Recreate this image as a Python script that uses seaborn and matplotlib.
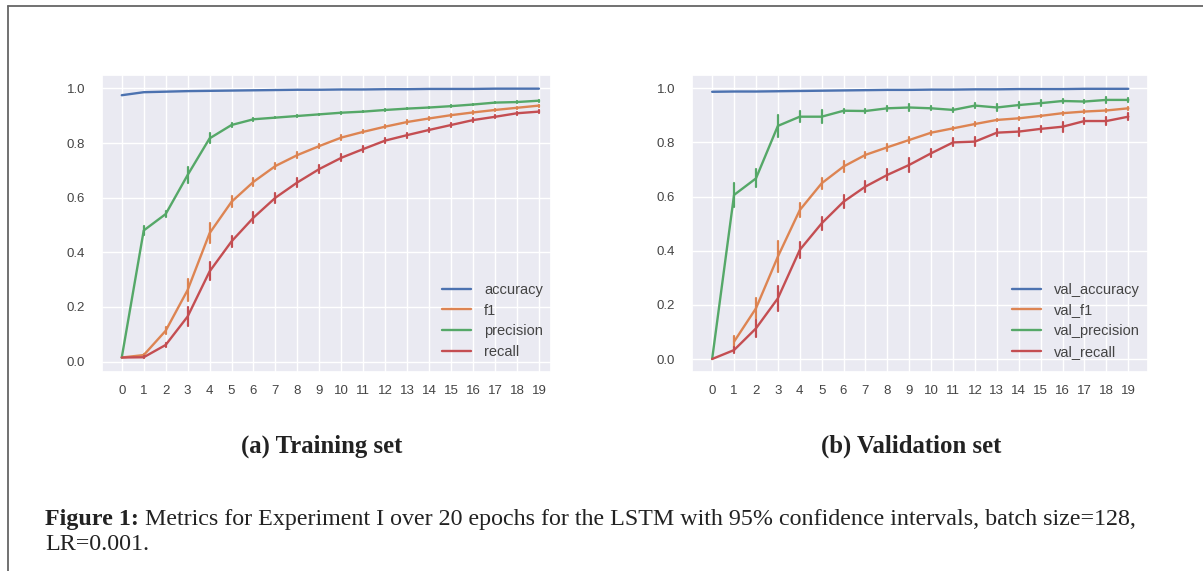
import numpy as np
import pandas as pd
import matplotlib
matplotlib.use("Agg")
import matplotlib.pyplot as plt
from matplotlib.lines import Line2D
import seaborn as sns

epochs = list(range(20))
metrics = ["accuracy", "f1", "precision", "recall"]

# ---- Training set (means and 95% CI half-widths) ----
train_accuracy = [0.975, 0.986, 0.988, 0.990, 0.991, 0.992, 0.993, 0.994, 0.995, 0.995,
                  0.996, 0.996, 0.997, 0.997, 0.998, 0.998, 0.998, 0.999, 0.999, 0.999]
train_f1 = [0.015, 0.024, 0.113, 0.262, 0.470, 0.585, 0.658, 0.716, 0.756, 0.789,
            0.820, 0.841, 0.860, 0.877, 0.890, 0.902, 0.912, 0.921, 0.929, 0.937]
train_precision = [0.015, 0.480, 0.540, 0.683, 0.817, 0.866, 0.887, 0.893, 0.899, 0.905,
                   0.911, 0.915, 0.921, 0.926, 0.930, 0.935, 0.941, 0.948, 0.950, 0.955]
train_recall = [0.015, 0.016, 0.061, 0.165, 0.330, 0.440, 0.527, 0.600, 0.656, 0.705,
                0.746, 0.778, 0.809, 0.829, 0.848, 0.866, 0.884, 0.896, 0.909, 0.915]
train_accuracy_ci = [0.0] * 20
train_f1_ci = [0.0, 0.005, 0.012, 0.040, 0.036, 0.020, 0.015, 0.012, 0.010, 0.008,
               0.008, 0.006, 0.006, 0.006, 0.005, 0.005, 0.005, 0.004, 0.004, 0.004]
train_precision_ci = [0.0, 0.018, 0.012, 0.030, 0.018, 0.008, 0.005, 0.003, 0.003, 0.003,
                      0.003, 0.003, 0.003, 0.003, 0.003, 0.003, 0.003, 0.003, 0.003, 0.003]
train_recall_ci = [0.0, 0.004, 0.008, 0.035, 0.033, 0.020, 0.020, 0.018, 0.016, 0.014,
                   0.013, 0.012, 0.010, 0.009, 0.008, 0.007, 0.007, 0.006, 0.006, 0.005]

# ---- Validation set ----
val_accuracy = [0.987, 0.988, 0.988, 0.989, 0.990, 0.991, 0.992, 0.993, 0.994, 0.994,
                0.995, 0.995, 0.996, 0.996, 0.997, 0.997, 0.997, 0.998, 0.998, 0.998]
val_f1 = [np.nan, 0.064, 0.187, 0.378, 0.550, 0.649, 0.711, 0.754, 0.782, 0.809,
          0.836, 0.852, 0.868, 0.883, 0.889, 0.898, 0.908, 0.914, 0.918, 0.926]
val_precision = [0.0, 0.606, 0.667, 0.861, 0.895, 0.895, 0.917, 0.916, 0.926, 0.929,
                 0.926, 0.920, 0.936, 0.929, 0.938, 0.945, 0.953, 0.951, 0.957, 0.957]
val_recall = [0.0, 0.033, 0.113, 0.224, 0.403, 0.501, 0.581, 0.637, 0.680, 0.717,
              0.760, 0.800, 0.803, 0.836, 0.840, 0.850, 0.858, 0.879, 0.879, 0.895]
val_accuracy_ci = [0.0] * 20
val_f1_ci = [np.nan, 0.020, 0.040, 0.058, 0.025, 0.020, 0.020, 0.012, 0.012, 0.012,
             0.008, 0.006, 0.006, 0.005, 0.005, 0.005, 0.005, 0.005, 0.005, 0.005]
val_precision_ci = [0.0, 0.045, 0.033, 0.042, 0.020, 0.024, 0.008, 0.008, 0.010, 0.012,
                    0.008, 0.008, 0.010, 0.012, 0.012, 0.012, 0.008, 0.006, 0.010, 0.008]
val_recall_ci = [0.0, 0.010, 0.030, 0.045, 0.030, 0.025, 0.025, 0.020, 0.020, 0.027,
                 0.015, 0.015, 0.018, 0.012, 0.015, 0.012, 0.018, 0.010, 0.015, 0.012]

train_labels = ["accuracy", "f1", "precision", "recall"]
val_labels = ["val_accuracy", "val_f1", "val_precision", "val_recall"]
y_ticks = [0.0, 0.2, 0.4, 0.6, 0.8, 1.0]
panel_titles = ["(a) Training set", "(b) Validation set"]
caption_bold = "Figure 1:"
caption_rest = " Metrics for Experiment I over 20 epochs for the LSTM with 95% confidence intervals, batch size=128,"
caption_line2 = "LR=0.001."


def build_frame(means, cis, labels):
    rows = []
    for lab, m, c in zip(labels, means, cis):
        for e, mv, cv in zip(epochs, m, c):
            if np.isnan(mv):
                continue
            rows.append({"epoch": e, "value": mv - cv, "metric": lab})
            rows.append({"epoch": e, "value": mv + cv, "metric": lab})
    return pd.DataFrame(rows)


train_df = build_frame([train_accuracy, train_f1, train_precision, train_recall],
                       [train_accuracy_ci, train_f1_ci, train_precision_ci, train_recall_ci],
                       train_labels)
val_df = build_frame([val_accuracy, val_f1, val_precision, val_recall],
                     [val_accuracy_ci, val_f1_ci, val_precision_ci, val_recall_ci],
                     val_labels)

sns.set_theme(style="darkgrid")
plt.rcParams["font.family"] = ["Liberation Sans", "DejaVu Sans"]

fig = plt.figure(figsize=(12.03, 5.71), dpi=100)
fig.patch.set_facecolor("white")

ax1 = fig.add_axes([102 / 1203, 1 - 372 / 571, 449 / 1203, 297 / 571])
ax2 = fig.add_axes([692 / 1203, 1 - 372 / 571, 456 / 1203, 297 / 571])

palette = sns.color_palette("deep", 4)
tick_color = "#444444"

for ax, df, labels, xlim, ylim in [
    (ax1, train_df, train_labels, (-0.9, 19.55), (-0.038, 1.049)),
    (ax2, val_df, val_labels, (-0.92, 19.9), (-0.048, 1.049)),
]:
    sns.lineplot(data=df, x="epoch", y="value", hue="metric", hue_order=labels,
                 palette=palette, estimator="mean", errorbar=("pi", 100),
                 err_style="bars", err_kws={"linewidth": 1.6}, linewidth=1.7,
                 ax=ax, legend=False)
    ax.set_xlim(*xlim)
    ax.set_ylim(*ylim)
    ax.set_xticks(epochs)
    ax.set_xticklabels([str(e) for e in epochs])
    ax.set_yticks(y_ticks)
    ax.set_yticklabels([f"{v:.1f}" for v in y_ticks])
    ax.set_xlabel("")
    ax.set_ylabel("")
    ax.tick_params(axis="both", length=0)
    ax.tick_params(axis="y", labelsize=9.5, colors=tick_color, pad=12)
    ax.tick_params(axis="x", labelsize=9.5, colors=tick_color, pad=9)
    handles = [Line2D([0], [0], color=palette[i], lw=1.7) for i in range(4)]
    leg = ax.legend(handles, labels, loc="lower right", frameon=False, fontsize=10.5,
                    handlelength=2.0, handletextpad=0.9, labelspacing=0.45,
                    borderaxespad=0.15, bbox_to_anchor=(1.0, 0.018))
    for t in leg.get_texts():
        t.set_color(tick_color)

serif = ["Liberation Serif", "DejaVu Serif"]

# panel captions
fig.text(321.5 / 1203, 1 - 453 / 571, panel_titles[0], ha="center", va="baseline",
         fontsize=17.8, fontweight="bold", family=serif, color="#222222")
fig.text(911 / 1203, 1 - 453 / 571, panel_titles[1], ha="center", va="baseline",
         fontsize=17.8, fontweight="bold", family=serif, color="#222222")

# figure caption
cap_x = 45 / 1203
cap_size = 17.3
t_bold = fig.text(cap_x, 1 - 525 / 571, caption_bold, ha="left", va="baseline",
                  fontsize=cap_size, fontweight="bold", family=serif, color="#222222")
fig.canvas.draw()
bb = t_bold.get_window_extent(renderer=fig.canvas.get_renderer())
fig.text(bb.x1 / fig.bbox.width, 1 - 525 / 571, caption_rest, ha="left", va="baseline",
         fontsize=cap_size, family=serif, color="#222222")
fig.text(cap_x, 1 - 550 / 571, caption_line2, ha="left", va="baseline",
         fontsize=cap_size, family=serif, color="#222222")

# outer frame (left and top edges)
fig.add_artist(Line2D([8 / 1203, 8 / 1203], [0, 1 - 6 / 571], transform=fig.transFigure,
                      color="#666666", lw=1.3))
fig.add_artist(Line2D([8 / 1203, 1], [1 - 6 / 571, 1 - 6 / 571], transform=fig.transFigure,
                      color="#666666", lw=1.3))

fig.savefig("out.png", dpi=100, facecolor="white")
